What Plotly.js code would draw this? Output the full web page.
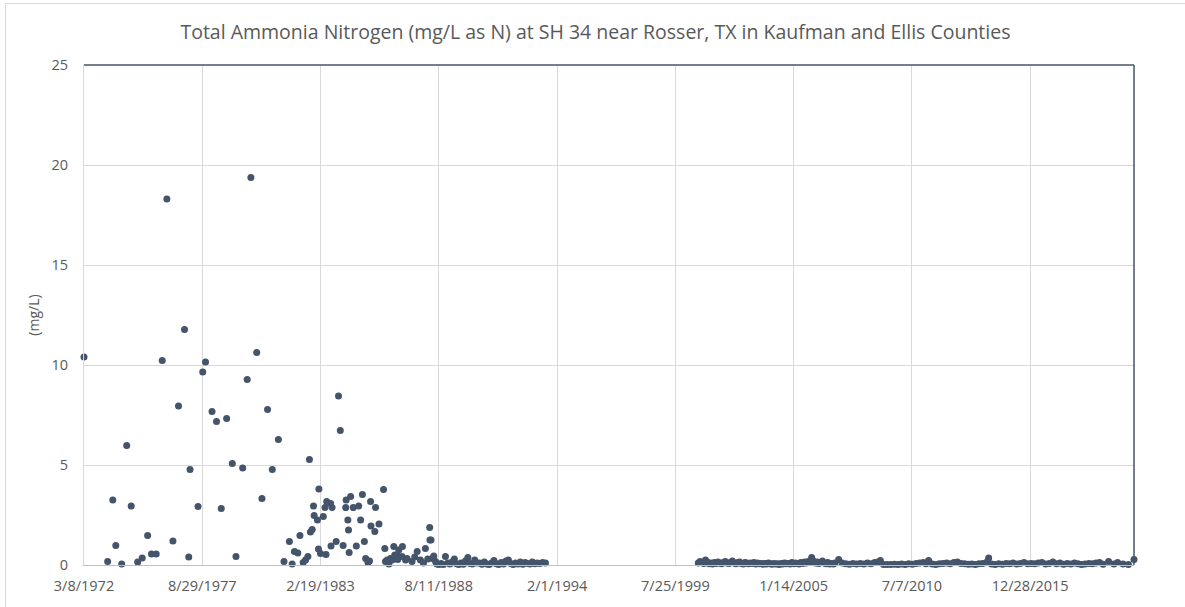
<!DOCTYPE html>
<html>
<head>
<meta charset="utf-8">
<script src="https://cdn.plot.ly/plotly-3.0.1.min.js"></script>
<style>html,body{margin:0;padding:0;background:#fff;}#chart{width:1185px;height:607px;}</style>
</head>
<body>
<div id="chart"></div>
<script>
// Sampling dates and values, 1972-1993
const datesEarly = [
"1972-03-08","1973-04-12","1973-07-08","1973-08-28","1973-12-05","1974-02-28","1974-05-15","1974-09-02","1974-11-17",
"1975-02-17","1975-04-23","1975-07-12","1975-10-22","1976-01-08","1976-04-20","1976-07-23","1976-11-02","1977-01-12",
"1977-02-03","1977-06-18","1977-09-06","1977-10-23","1978-02-10","1978-04-27","1978-07-16","1978-10-15","1979-01-19",
"1979-03-22","1979-07-13","1979-09-28","1979-11-29","1980-03-07","1980-06-03","1980-09-06","1980-11-25","1981-03-08",
"1981-06-11","1981-09-10","1981-10-27","1981-12-05","1982-01-30","1982-03-08","1982-05-01","1982-06-10","1982-07-20",
"1982-08-15","1982-09-01","1982-10-01","1982-10-23","1982-11-03","1982-12-28","1983-01-15","1983-01-22","1983-02-18",
"1983-04-06","1983-05-05","1983-05-22","1983-06-03","1983-08-08","1983-08-15","1983-09-02","1983-11-10","1983-12-20",
"1984-01-19","1984-03-07","1984-04-20","1984-04-27","1984-05-26","1984-06-06","1984-06-17","1984-07-12","1984-08-25",
"1984-10-16","1984-11-25","1984-12-28","1985-01-27","1985-03-01","1985-03-23","1985-05-01","1985-05-27","1985-06-14",
"1985-06-21","1985-08-25","1985-09-06","1985-11-03","1986-01-19","1986-02-10","1986-02-21","1986-03-22","1986-04-20",
"1986-05-15","1986-06-13","1986-07-12","1986-07-27","1986-09-05","1986-09-16","1986-10-04","1986-11-28","1986-12-05",
"1987-01-27","1987-02-21","1987-05-16","1987-07-01","1987-08-11","1987-10-05","1987-11-25","1987-12-28","1988-02-06",
"1988-03-10","1988-03-14","1988-04-01","1988-04-20","1988-05-18","1988-06-17","1988-07-08","1988-08-15","1988-09-20",
"1988-10-25","1988-12-01","1989-01-10","1989-02-15","1989-03-22","1989-05-01","1989-06-05","1989-07-15","1989-08-20",
"1989-10-01","1989-11-05","1989-12-15","1990-01-20","1990-03-01","1990-04-10","1990-05-20","1990-07-01","1990-08-10",
"1990-09-20","1990-11-01","1990-12-10","1991-01-20","1991-03-01","1991-04-10","1991-05-20","1991-07-01","1991-08-10",
"1991-09-20","1991-11-01","1991-12-10","1992-01-20","1992-03-01","1992-04-10","1992-05-20","1992-07-01","1992-08-10",
"1992-09-20","1992-11-01","1992-12-10","1993-01-20","1993-03-01","1993-04-15","1993-06-01","1993-07-20"
];
const valuesEarly = [
10.4,0.17,3.25,0.97,0.05,5.97,2.95,0.15,0.35,
1.47,0.55,0.55,10.23,18.3,1.2,7.95,11.78,0.4,
4.77,2.92,9.65,10.15,7.67,7.17,2.83,7.32,5.08,
0.43,4.85,9.27,19.37,10.62,3.33,7.78,4.77,6.28,
0.17,1.17,0.05,0.67,0.6,1.47,0.12,0.25,0.42,
5.28,1.65,1.78,2.95,2.47,2.25,0.8,3.8,0.58,
2.42,2.88,0.53,3.17,3.08,0.95,2.88,1.18,8.45,
6.73,0.97,2.87,3.25,2.25,1.75,0.62,3.42,2.87,
0.95,2.95,2.25,3.52,1.17,0.33,0.12,0.2,3.17,
1.95,1.67,2.88,2.05,3.77,0.83,0.17,0.25,0.05,
0.33,0.25,0.92,0.5,0.5,0.28,0.75,0.42,0.92,
0.25,0.33,0.17,0.4,0.67,0.25,0.1,0.83,0.3,
1.87,1.25,1.25,0.33,0.45,0.17,0.05,0.03,0.08,
0.02,0.42,0.1,0.05,0.15,0.3,0.06,0.02,0.1,
0.04,0.2,0.38,0.08,0.05,0.25,0.1,0.1,0.04,
0.15,0.05,0.02,0.1,0.22,0.06,0.03,0.12,0.05,
0.2,0.25,0.07,0.03,0.1,0.05,0.15,0.04,0.12,
0.08,0.05,0.15,0.06,0.1,0.08,0.12,0.1
];
// Sampling dates and values, 2000-2020
const datesLate = [
"2000-08-15","2000-09-15","2000-10-15","2000-11-15","2000-12-15",
"2001-01-15","2001-02-15","2001-03-15","2001-04-15","2001-05-15","2001-06-15","2001-07-15","2001-08-15","2001-09-15","2001-10-15","2001-11-15","2001-12-15",
"2002-01-15","2002-02-15","2002-03-15","2002-04-15","2002-05-15","2002-06-15","2002-07-15","2002-08-15","2002-09-15","2002-10-15","2002-11-15","2002-12-15",
"2003-01-15","2003-02-15","2003-03-15","2003-04-15","2003-05-15","2003-06-15","2003-07-15","2003-08-15","2003-09-15","2003-10-15","2003-11-15","2003-12-15",
"2004-01-15","2004-02-15","2004-03-15","2004-04-15","2004-05-15","2004-06-15","2004-07-15","2004-08-15","2004-09-15","2004-10-15","2004-11-15","2004-12-15",
"2005-01-15","2005-02-15","2005-03-15","2005-04-15","2005-05-15","2005-06-15","2005-07-15","2005-08-15","2005-09-15","2005-10-15","2005-11-15","2005-12-15",
"2006-01-15","2006-02-15","2006-03-15","2006-04-15","2006-05-15","2006-06-15","2006-07-15","2006-08-15","2006-09-15","2006-10-15","2006-11-15","2006-12-15",
"2007-02-15","2007-04-15","2007-06-15","2007-08-15","2007-10-15","2007-12-15",
"2008-02-15","2008-04-15","2008-06-15","2008-08-15","2008-10-15","2008-12-15",
"2009-01-20","2009-03-15","2009-05-15","2009-07-15","2009-09-15","2009-11-15",
"2010-01-15","2010-03-15","2010-05-15","2010-07-15","2010-09-15","2010-11-15",
"2011-01-15","2011-03-01","2011-04-15","2011-06-15","2011-08-15","2011-10-15","2011-12-15",
"2012-02-15","2012-04-15","2012-06-15","2012-08-15","2012-10-15","2012-12-15",
"2013-02-15","2013-04-15","2013-06-15","2013-08-15","2013-10-15","2013-12-15",
"2014-01-25","2014-03-15","2014-05-15","2014-07-15","2014-09-15","2014-11-15",
"2015-01-15","2015-03-15","2015-05-15","2015-07-15","2015-09-15","2015-11-15",
"2016-01-15","2016-03-15","2016-05-15","2016-07-15","2016-09-15","2016-11-15",
"2017-01-15","2017-03-15","2017-05-15","2017-07-15","2017-09-15","2017-11-15",
"2018-01-15","2018-03-15","2018-05-15","2018-07-15","2018-09-15","2018-11-15",
"2019-01-15","2019-03-15","2019-05-15","2019-08-15","2019-11-15",
"2020-01-15","2020-04-15","2020-07-15","2020-10-18"
];
const valuesLate = [
0.1,0.18,0.12,0.08,0.25,
0.15,0.06,0.1,0.05,0.12,0.08,0.15,0.1,0.06,0.12,0.18,0.1,
0.08,0.14,0.2,0.1,0.06,0.12,0.15,0.08,0.05,0.12,0.1,0.06,
0.1,0.08,0.12,0.05,0.1,0.06,0.08,0.04,0.07,0.05,0.1,0.06,
0.04,0.08,0.05,0.06,0.03,0.07,0.05,0.1,0.06,0.08,0.05,0.12,
0.06,0.1,0.08,0.05,0.12,0.07,0.15,0.1,0.18,0.12,0.38,0.2,
0.1,0.15,0.08,0.12,0.2,0.1,0.06,0.12,0.05,0.08,0.05,0.1,
0.28,0.1,0.06,0.04,0.07,0.05,
0.08,0.05,0.1,0.06,0.12,0.15,
0.22,0.02,0.03,0.02,0.04,0.03,
0.05,0.03,0.06,0.04,0.08,0.1,
0.12,0.06,0.22,0.05,0.02,0.06,0.08,
0.1,0.06,0.12,0.15,0.08,0.06,
0.04,0.05,0.03,0.06,0.08,0.12,
0.35,0.05,0.03,0.06,0.04,0.08,
0.06,0.1,0.05,0.08,0.12,0.06,
0.08,0.06,0.1,0.12,0.05,0.08,
0.15,0.06,0.1,0.04,0.08,0.05,
0.1,0.06,0.03,0.05,0.08,0.06,
0.1,0.12,0.04,0.18,0.05,
0.12,0.05,0.02,0.28
];
// Axis ticks
const xTickDates = ["1972-03-08","1977-08-29","1983-02-19","1988-08-11","1994-02-01","1999-07-25","2005-01-14","2010-07-07","2015-12-28"];
const xTickLabels = ["3/8/1972","8/29/1977","2/19/1983","8/11/1988","2/1/1994","7/25/1999","1/14/2005","7/7/2010","12/28/2015"];
const yTicks = [0,5,10,15,20,25];

const fontFam = "'Open Sans', 'Noto Sans', sans-serif";
const txt = "#595959";
const markerColor = "#44546a";

const trace = {
  type: "scatter",
  mode: "markers",
  x: datesEarly.concat(datesLate),
  y: valuesEarly.concat(valuesLate),
  marker: {color: markerColor, size: 7, line: {width: 0}},
  cliponaxis: false,
  hoverinfo: "x+y"
};

const layout = {
  width: 1185, height: 607,
  margin: {l: 84, r: 51, t: 65, b: 42, pad: 0},
  paper_bgcolor: "#fff", plot_bgcolor: "#fff",
  showlegend: false,
  font: {family: fontFam, color: txt, size: 14},
  title: {
    text: "Total Ammonia Nitrogen (mg/L as N) at SH 34 near Rosser, TX in Kaufman and Ellis Counties",
    font: {family: fontFam, size: 19.5, color: txt},
    x: 0.5025, xanchor: "center", y: 0.947, yanchor: "middle"
  },
  xaxis: {
    type: "date",
    range: ["1972-03-08", "2020-10-18"],
    tickmode: "array", tickvals: xTickDates, ticktext: xTickLabels,
    showgrid: true, gridcolor: "#d9d9d9", gridwidth: 1,
    showline: true, linecolor: "#bfbfbf", linewidth: 1,
    zeroline: false, ticks: "", ticklabelstandoff: 8,
    tickfont: {family: fontFam, size: 14.5, color: txt},
    fixedrange: true
  },
  yaxis: {
    range: [0, 25],
    tickmode: "array", tickvals: yTicks,
    showgrid: true, gridcolor: "#d9d9d9", gridwidth: 1,
    showline: true, linecolor: "#d9d9d9", linewidth: 1,
    zeroline: false, ticks: "", ticklabelstandoff: 12,
    tickfont: {family: fontFam, size: 14.5, color: txt},
    title: {text: "(mg/L)", font: {family: fontFam, size: 14, color: txt}, standoff: 8},
    fixedrange: true
  },
  shapes: [
    {type: "line", xref: "paper", yref: "paper", x0: 0, x1: 1, y0: 1, y1: 1, line: {color: markerColor, width: 1.5}},
    {type: "line", xref: "paper", yref: "paper", x0: 1, x1: 1, y0: 0, y1: 1, line: {color: markerColor, width: 1.5}},
    {type: "rect", xref: "paper", yref: "paper", x0: -0.0748, x1: 1.06, y0: -0.1, y1: 1.123, line: {color: "#d9d9d9", width: 1}, layer: "below"}
  ]
};

Plotly.newPlot("chart", [trace], layout, {displayModeBar: false, staticPlot: true});
</script>
</body>
</html>
